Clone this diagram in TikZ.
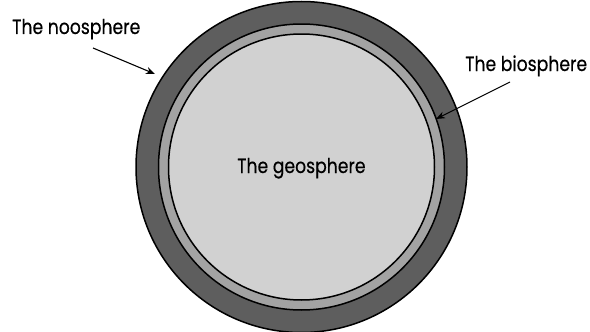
\documentclass[tikz,border=0pt]{standalone}
\usepackage{fontspec}
\setmainfont{Poppins}
\usetikzlibrary{arrows.meta}
\definecolor{noo}{gray}{0.37}
\definecolor{bio}{gray}{0.64}
\definecolor{geo}{gray}{0.82}
\newcommand{\labtext}[1]{\scalebox{0.84}[1]{\addfontfeature{FakeBold=0.5}#1}}
\tikzset{
  sphere/.style={circle, draw=black, line width=1.5pt, inner sep=0pt},
  label text/.style={font=\fontsize{20.5}{24}\selectfont, inner sep=0pt, anchor=base west},
  pointer/.style={line width=1.1pt, -{Stealth[length=9pt,width=7pt]}}
}
\begin{document}
\begin{tikzpicture}[x=1pt,y=-1pt]
\useasboundingbox (0,0) rectangle (590,332);
\node[sphere, fill=noo, minimum size=331pt] (noo) at (301.5,167) {};
\node[sphere, fill=bio, minimum size=286pt] (bio) at (301.5,167) {};
\node[sphere, fill=geo, minimum size=266pt] (geo) at (301.5,167) {};
\node[label text] (nootext) at (12,34) {\labtext{The noosphere}};
\node[label text] (biotext) at (465,71) {\labtext{The biosphere}};
\node[label text] (geotext) at (237,173) {\labtext{The geosphere}};
\coordinate (nooA) at (93,48);
\coordinate (nooB) at (155,74);
\coordinate (bioA) at (510,82);
\coordinate (bioB) at (436,119);
\draw[pointer] (nooA) -- (nooB);
\draw[pointer] (bioA) -- (bioB);
\end{tikzpicture}
\end{document}
